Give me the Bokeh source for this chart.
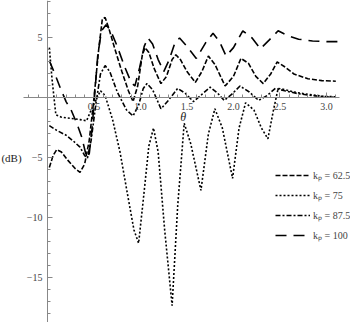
from bokeh.plotting import figure
from bokeh.models import Range1d, LinearAxis, FixedTicker, Legend, LegendItem, Label, NumeralTickFormatter
from bokeh.embed import file_html
from bokeh.resources import INLINE

# ---- data ----
theta_625 = [0.02, 0.06, 0.10, 0.15, 0.22, 0.30, 0.35, 0.40, 0.45, 0.50, 0.55, 0.59, 0.62, 0.66, 0.72, 0.80, 0.87, 0.92, 0.97, 1.02, 1.05, 1.09, 1.15, 1.22, 1.28, 1.34, 1.38, 1.43, 1.50, 1.59, 1.66, 1.73, 1.80, 1.91, 2.00, 2.08, 2.16, 2.24, 2.32, 2.40, 2.47, 2.55, 2.65, 2.80, 2.95, 3.10]
db_625 = [-5.8, -4.8, -4.3, -4.5, -5.2, -5.9, -6.2, -5.5, -3.5, 0.0, 4.0, 6.6, 6.7, 5.8, 4.2, 2.2, 0.6, -0.3, 1.0, 3.6, 4.2, 3.8, 2.4, 1.2, 1.8, 3.2, 3.6, 3.2, 2.2, 1.3, 2.2, 3.5, 2.8, 1.0, 1.8, 3.3, 2.9, 1.8, 1.2, 2.0, 3.0, 2.6, 2.0, 1.6, 1.45, 1.4]

theta_75 = [0.02, 0.05, 0.09, 0.15, 0.25, 0.35, 0.42, 0.47, 0.52, 0.57, 0.62, 0.70, 0.78, 0.86, 0.93, 0.98, 1.03, 1.09, 1.14, 1.19, 1.26, 1.34, 1.40, 1.47, 1.54, 1.65, 1.73, 1.80, 1.88, 1.99, 2.06, 2.13, 2.22, 2.30, 2.37, 2.43, 2.48, 2.55, 2.65, 2.80, 2.95, 3.10]
db_75 = [4.2, 1.5, -1.4, -1.6, -1.7, -1.8, -1.9, -1.0, -0.2, 0.6, 0.2, -1.8, -4.5, -8.0, -11.0, -12.1, -8.5, -4.0, -2.5, -4.5, -11.0, -17.3, -9.0, -2.1, -3.8, -7.7, -3.0, -0.9, -2.5, -6.7, -2.5, -0.4, -1.0, -2.5, -3.4, -1.0, 0.8, 0.7, 0.5, 0.3, 0.15, 0.1]

theta_875 = [0.02, 0.10, 0.20, 0.28, 0.35, 0.40, 0.43, 0.47, 0.52, 0.57, 0.62, 0.67, 0.75, 0.85, 0.92, 0.98, 1.03, 1.07, 1.13, 1.22, 1.30, 1.40, 1.48, 1.57, 1.66, 1.75, 1.83, 1.90, 1.98, 2.07, 2.17, 2.27, 2.36, 2.45, 2.55, 2.70, 2.85, 3.00, 3.10]
db_875 = [-2.3, -2.7, -3.1, -3.6, -4.1, -4.8, -5.0, -3.5, -0.5, 2.0, 2.7, 2.2, 0.5, -1.0, -1.5, -0.6, 0.8, 1.2, 0.7, -0.9, -0.2, 0.8, 0.4, -0.3, 0.3, 0.9, 0.4, -0.2, 0.3, 1.0, 0.5, -0.2, 0.2, 0.8, 0.6, 0.35, 0.2, 0.1, 0.05]

theta_100 = [0.02, 0.08, 0.14, 0.20, 0.26, 0.32, 0.37, 0.41, 0.43, 0.45, 0.48, 0.51, 0.54, 0.58, 0.63, 0.68, 0.75, 0.83, 0.90, 0.94, 0.99, 1.04, 1.08, 1.13, 1.19, 1.25, 1.31, 1.37, 1.42, 1.50, 1.60, 1.70, 1.78, 1.85, 1.92, 2.00, 2.10, 2.20, 2.29, 2.38, 2.48, 2.58, 2.70, 2.85, 3.00, 3.12]
db_100 = [3.1, 2.0, 0.8, -0.3, -1.1, -2.2, -3.3, -4.6, -5.0, -4.6, -2.5, 0.5, 3.5, 5.6, 6.1, 5.6, 4.3, 2.6, 1.3, 1.0, 2.5, 4.3, 5.0, 4.5, 3.2, 2.2, 3.2, 4.6, 5.0, 4.3, 3.3, 4.6, 5.4, 4.7, 3.5, 4.2, 5.6, 5.0, 4.1, 4.8, 5.6, 5.2, 4.9, 4.75, 4.7, 4.7]

x_major = [0.5, 1.0, 1.5, 2.0, 2.5, 3.0]
x_minor = [-0.2, -0.1, 0.1, 0.2, 0.3, 0.4, 0.6, 0.7, 0.8, 0.9, 1.1, 1.2, 1.3, 1.4, 1.6, 1.7, 1.8, 1.9, 2.1, 2.2, 2.3, 2.4, 2.6, 2.7, 2.8, 2.9, 3.1]
y_major = [-15, -10, -5, 5]
y_minor = [-18, -17, -16, -14, -13, -12, -11, -9, -8, -7, -6, -4, -3, -2, -1, 1, 2, 3, 4, 6, 7, 8]
labels = ["k\u209a = 62.5", "k\u209a = 75", "k\u209a = 87.5", "k\u209a = 100"]
dashes = ["5 2", "2 2", "5 2 2 2", "11 7"]

FONT = "Liberation Serif"

p = figure(width=350, height=322, output_backend="svg", toolbar_location=None,
           x_range=Range1d(-0.505, 3.258), y_range=Range1d(-18.71, 8.125),
           x_axis_location=None, y_axis_location=None, min_border=0,
           outline_line_color=None)
p.grid.visible = False

xa = LinearAxis(fixed_location=0, bounds=(-0.26, 3.14),
                ticker=FixedTicker(ticks=x_major, minor_ticks=x_minor),
                formatter=NumeralTickFormatter(format="0.0"))
ya = LinearAxis(fixed_location=0,
                ticker=FixedTicker(ticks=y_major, minor_ticks=y_minor),
                major_label_overrides={-15: "\u221215", -10: "\u221210", -5: "\u22125"})
for ax in (xa, ya):
    ax.axis_line_color = "#888888"
    ax.major_tick_line_color = "#888888"
    ax.minor_tick_line_color = "#888888"
    ax.major_tick_in = 5
    ax.major_tick_out = 0
    ax.minor_tick_in = 3
    ax.minor_tick_out = 0
    ax.major_label_text_font = FONT
    ax.major_label_text_font_size = "10px"
    ax.major_label_text_color = "#444444"
p.add_layout(xa, "below")
p.add_layout(ya, "left")

p.add_layout(Label(x=-0.495, y=-5, text="(dB)", text_font=FONT, text_font_size="11px",
                   text_color="#222222", text_baseline="middle", text_align="left"))
p.add_layout(Label(x=1.46, y=-1.55, text="\u03b8", text_font=FONT, text_font_size="12px",
                   text_font_style="italic", text_color="#222222",
                   text_baseline="middle", text_align="center"))

items = []
for th, db, lab, dsh in zip([theta_625, theta_75, theta_875, theta_100],
                            [db_625, db_75, db_875, db_100], labels, dashes):
    r = p.line(th, db, line_color="black", line_width=1.6, line_dash=dsh)
    items.append(LegendItem(label=lab, renderers=[r]))

leg = Legend(items=items, location=(275, 77), padding=0, margin=0, spacing=0,
             glyph_width=35, glyph_height=20, label_height=20, label_standoff=3,
             label_text_font=FONT, label_text_font_size="10px",
             background_fill_alpha=0, border_line_color=None)
p.add_layout(leg, "center")

open("out.html", "w").write(file_html(p, INLINE))
